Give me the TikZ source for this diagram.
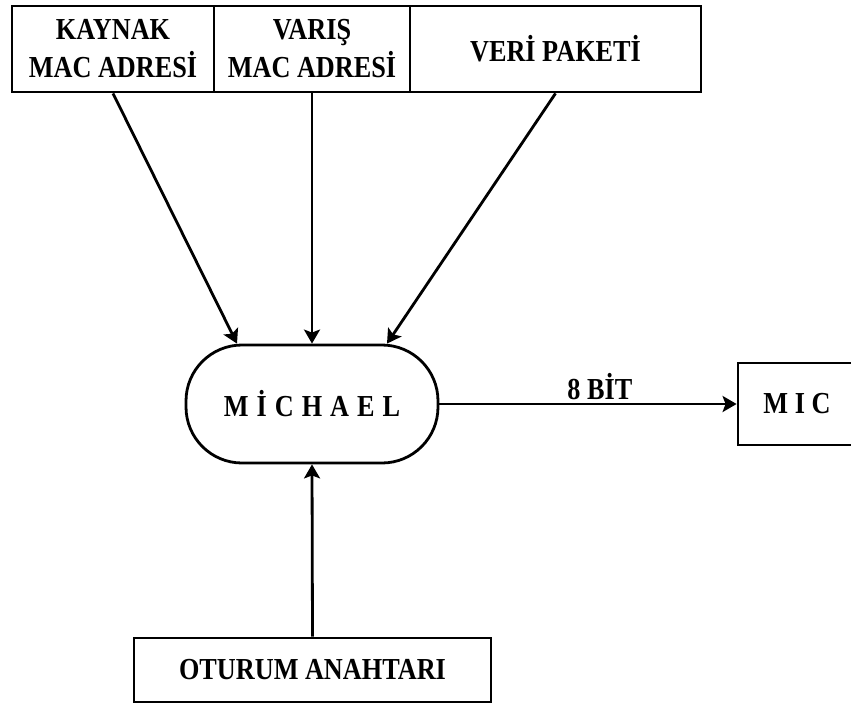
\documentclass[tikz,border=0pt]{standalone}
\usepackage{fontspec}
\setmainfont{Liberation Serif}[FakeStretch=0.86]
\usetikzlibrary{arrows.meta,calc}
\newcommand{\lgap}{\hspace{8pt}}
\begin{document}
\begin{tikzpicture}[x=1pt,y=-1pt,
  every node/.style={font=\fontsize{30.5}{38}\selectfont\bfseries, inner sep=0pt},
  box/.style={draw, line width=2.8pt, rectangle, align=center},
  proc/.style={draw, line width=2.8pt, rectangle, rounded corners=56pt},
  conn/.style={line width=2.8pt, -{Stealth[length=14pt,width=16pt,inset=3pt]}}]
\useasboundingbox (0,0) rectangle (851,704);
\node[box, minimum width=202pt, minimum height=86pt] (kaynak) at (113,49) {KAYNAK\\MAC ADRESİ};
\node[box, minimum width=196pt, minimum height=86pt] (varis) at (312,49) {VARIŞ\\MAC ADRESİ};
\node[box, minimum width=291pt, minimum height=86pt] (veri) at (555.5,49) {VERİ PAKETİ};
\node[proc, minimum width=252pt, minimum height=118pt] (michael) at (312,404) {M\lgap İ\lgap C\lgap H\lgap A\lgap E\lgap L};
\node[box, minimum width=118pt, minimum height=82pt] (mic) at (797,404) {M I C};
\node[box, minimum width=357pt, minimum height=64pt] (oturum) at (312.5,670) {OTURUM ANAHTARI};
\draw[conn] (kaynak.south) -- ($(michael.north)+(-75,0)$);
\draw[conn] (varis.south) -- (michael.north);
\draw[conn] (veri.south) -- ($(michael.north)+(75,0)$);
\draw[conn] (michael.east) -- node[pos=0.54, above=3pt] {8 BİT} (mic.west);
\draw[conn] (oturum.north) -- (michael.south);
\end{tikzpicture}
\end{document}
